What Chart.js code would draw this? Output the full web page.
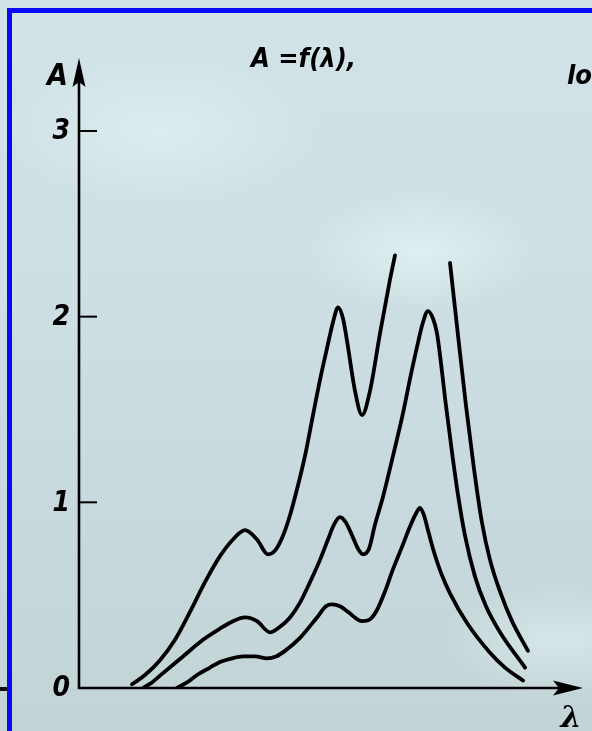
<!DOCTYPE html>
<html>
<head>
<meta charset="utf-8">
<script src="https://cdn.jsdelivr.net/npm/chart.js@4.4.1/dist/chart.umd.min.js"></script>
<style>
  html, body { margin: 0; padding: 0; }
  body {
    width: 592px; height: 731px; overflow: hidden; position: relative;
    background:
      radial-gradient(ellipse 120px 60px at 420px 250px, rgba(230,246,248,0.7), rgba(230,246,248,0) 100%),
      radial-gradient(ellipse 160px 80px at 160px 130px, rgba(228,244,246,0.6), rgba(228,244,246,0) 100%),
      radial-gradient(ellipse 120px 60px at 560px 640px, rgba(225,240,243,0.6), rgba(225,240,243,0) 100%),
      linear-gradient(180deg, #d2e3e7 0%, #cddfe2 40%, #c7d9dc 70%, #c3d4d7 100%);
  }
  #frame {
    position: absolute; left: 7px; top: 8px; width: 600px; height: 740px;
    border-top: 5px solid #0a0af5; border-left: 5px solid #0a0af5;
  }
  #stub { position: absolute; left: 0; top: 687px; width: 7px; height: 4px; background: #111; }
  #wrap { position: absolute; left: 0; top: 0; width: 592px; height: 731px; }
</style>
</head>
<body>
<div id="frame"></div>
<div id="stub"></div>
<div id="wrap"><canvas id="c" width="592" height="731"></canvas></div>
<script>
// ---- data (lambda in arbitrary units, A = absorbance) ----
const yTicks = [0, 1, 2, 3];
const yTickLabels = ['0', '1', '2', '3'];
const titleText = 'A =f(\u03bb),';
const yAxisLabel = 'A';
const xAxisLabel = '\u03bb';

// curve 1 (highest), broken at the top between the two tall peaks
const lambda1 = [5.3, 6.6, 8.1, 9.6, 11.1, 12.6, 14.1, 15.4, 16.6, 17.8, 18.9, 19.6, 20.4, 21.1, 21.8, 22.6, 23.4, 24.1, 24.8, 25.4, 25.9, 26.4, 26.8, 27.6, 28.3, 29.1, 30.1, 31.1, 31.6, 34.3, 37.1, 37.9, 38.7, 39.5, 40.3, 41.1, 42.1, 43.3, 44.9];
const absorb1 = [0.02, 0.07, 0.15, 0.26, 0.41, 0.57, 0.71, 0.80, 0.85, 0.80, 0.72, 0.74, 0.82, 0.93, 1.07, 1.25, 1.47, 1.66, 1.83, 1.97, 2.05, 1.99, 1.87, 1.60, 1.47, 1.60, 1.91, 2.20, 2.33, null, 2.29, 1.90, 1.52, 1.18, 0.89, 0.69, 0.52, 0.36, 0.20];

// curve 2 (middle)
const lambda2 = [6.4, 7.3, 8.4, 10.4, 12.4, 14.1, 15.4, 16.6, 17.8, 19.1, 20.1, 21.1, 22.1, 23.1, 24.1, 24.9, 25.5, 26.1, 26.7, 27.4, 27.9, 28.4, 29.0, 29.6, 30.4, 31.4, 32.4, 33.2, 33.9, 34.4, 34.9, 35.4, 35.8, 36.7, 37.3, 37.9, 38.6, 39.6, 40.7, 42.1, 44.6];
const absorb2 = [0.00, 0.03, 0.08, 0.17, 0.26, 0.32, 0.36, 0.38, 0.36, 0.30, 0.33, 0.38, 0.46, 0.57, 0.69, 0.80, 0.88, 0.92, 0.89, 0.81, 0.75, 0.72, 0.75, 0.88, 1.03, 1.25, 1.48, 1.69, 1.86, 1.97, 2.03, 1.99, 1.91, 1.52, 1.27, 1.04, 0.82, 0.60, 0.44, 0.30, 0.11];

// curve 3 (lowest)
const lambda3 = [9.8, 10.8, 11.8, 13.1, 14.1, 15.3, 16.4, 17.6, 18.8, 19.7, 20.6, 22.1, 23.8, 24.7, 25.3, 26.1, 26.9, 28.3, 29.1, 29.8, 30.6, 31.4, 32.3, 33.1, 33.7, 34.1, 34.5, 34.9, 35.4, 36.2, 37.1, 38.8, 41.1, 42.6, 44.4];
const absorb3 = [0.00, 0.03, 0.07, 0.11, 0.14, 0.16, 0.17, 0.17, 0.16, 0.17, 0.20, 0.27, 0.38, 0.44, 0.45, 0.44, 0.41, 0.36, 0.37, 0.42, 0.52, 0.64, 0.76, 0.87, 0.94, 0.97, 0.93, 0.85, 0.75, 0.62, 0.51, 0.35, 0.19, 0.11, 0.04];

const X_MAX = 50.4;
const Y_MAX = 3.393;

function pts(xs, ys) { return xs.map((x, i) => ({ x: x, y: ys[i] })); }

const lineStyle = {
  borderColor: '#000', borderWidth: 3.8, pointRadius: 0, fill: false,
  cubicInterpolationMode: 'monotone', borderCapStyle: 'round', borderJoinStyle: 'round',
  spanGaps: false
};

const axesPlugin = {
  id: 'handAxes',
  beforeDatasetsDraw(chart) {
    const ctx = chart.ctx;
    const xs = chart.scales.x, ys = chart.scales.y;
    const x0 = xs.getPixelForValue(0), y0 = ys.getPixelForValue(0);
    const xEnd = xs.getPixelForValue(X_MAX), yEnd = ys.getPixelForValue(Y_MAX);
    ctx.save();
    ctx.strokeStyle = '#000'; ctx.fillStyle = '#000';
    ctx.lineWidth = 2.6; ctx.lineCap = 'butt';
    // y axis
    ctx.beginPath(); ctx.moveTo(x0, y0 + 1); ctx.lineTo(x0, yEnd + 20); ctx.stroke();
    // x axis
    ctx.beginPath(); ctx.moveTo(x0 - 1, y0); ctx.lineTo(xEnd - 20, y0); ctx.stroke();
    // arrowheads
    ctx.beginPath(); ctx.moveTo(x0, yEnd); ctx.lineTo(x0 - 6.5, yEnd + 29); ctx.lineTo(x0, yEnd + 24); ctx.lineTo(x0 + 6.5, yEnd + 29); ctx.closePath(); ctx.fill();
    ctx.beginPath(); ctx.moveTo(xEnd, y0); ctx.lineTo(xEnd - 30, y0 - 7.5); ctx.lineTo(xEnd - 24, y0); ctx.lineTo(xEnd - 30, y0 + 7.5); ctx.closePath(); ctx.fill();
    // tick marks (inward) and labels
    ctx.lineWidth = 2;
    ctx.font = 'italic bold 28px "Liberation Sans Narrow", "DejaVu Sans Condensed", "Liberation Sans", sans-serif';
    ctx.textAlign = 'right'; ctx.textBaseline = 'middle';
    yTicks.forEach((v, i) => {
      const py = ys.getPixelForValue(v);
      if (v !== 0) { ctx.beginPath(); ctx.moveTo(x0, py); ctx.lineTo(x0 + 18, py); ctx.stroke(); }
      ctx.fillText(yTickLabels[i], x0 - 9, py + 1);
    });
    // axis labels
    ctx.textAlign = 'left'; ctx.textBaseline = 'alphabetic';
    ctx.font = 'italic bold 30px "Liberation Sans Narrow", "DejaVu Sans Condensed", "Liberation Sans", sans-serif';
    ctx.fillText(yAxisLabel, x0 - 32, yEnd + 27);
    ctx.font = 'italic bold 30px "DejaVu Serif", serif';
    ctx.textAlign = 'center';
    ctx.fillText(xAxisLabel, xEnd - 12, y0 + 39);
    // title
    ctx.font = 'italic bold 27px "Liberation Sans Narrow", "DejaVu Sans Condensed", "Liberation Sans", sans-serif';
    ctx.textAlign = 'left';
    ctx.fillText(titleText, 251, 67);
    ctx.font = 'italic bold 27px "Liberation Sans Narrow", "DejaVu Sans Condensed", "Liberation Sans", sans-serif';
    ctx.fillText('lo', 567, 84);
    ctx.restore();
  }
};

new Chart(document.getElementById('c'), {
  type: 'line',
  data: {
    datasets: [
      Object.assign({ label: 'curve 1', data: pts(lambda1, absorb1) }, lineStyle),
      Object.assign({ label: 'curve 2', data: pts(lambda2, absorb2) }, lineStyle),
      Object.assign({ label: 'curve 3', data: pts(lambda3, absorb3) }, lineStyle)
    ]
  },
  options: {
    responsive: false, animation: false, devicePixelRatio: 1,
    layout: { padding: { left: 79, right: 9, top: 58, bottom: 43 } },
    scales: {
      x: { type: 'linear', display: false, min: 0, max: X_MAX },
      y: { type: 'linear', display: false, min: 0, max: Y_MAX }
    },
    plugins: { legend: { display: false }, tooltip: { enabled: false }, title: { display: false } }
  },
  plugins: [axesPlugin]
});
</script>
</body>
</html>
